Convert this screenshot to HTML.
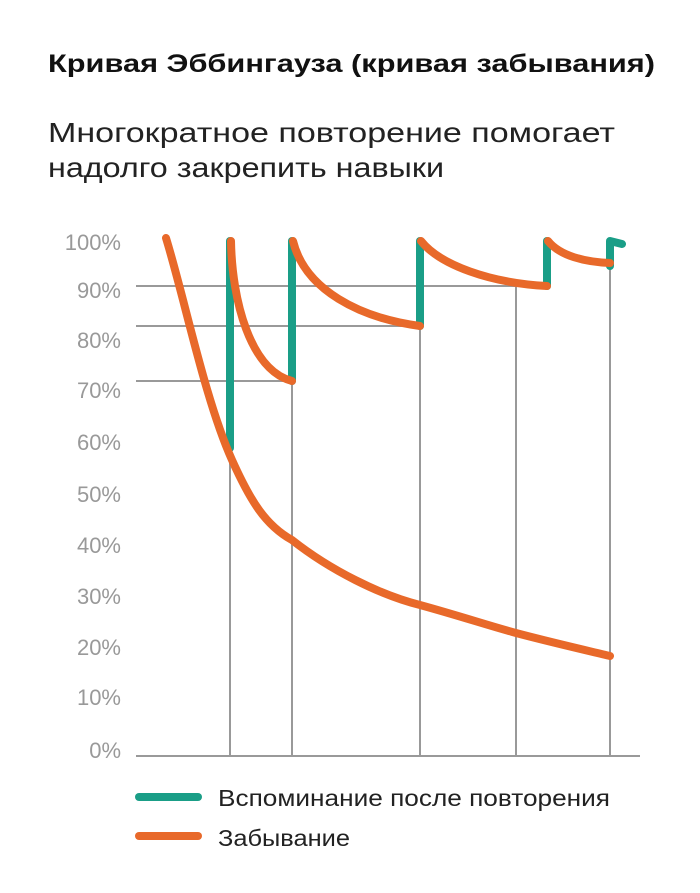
<!DOCTYPE html>
<html><head><meta charset="utf-8"><style>
body{margin:0;background:#fff;width:700px;height:893px;overflow:hidden;font-family:"Liberation Sans",sans-serif}
</style></head><body>
<svg width="700" height="893" xmlns="http://www.w3.org/2000/svg" style="position:absolute;left:0;top:0">
<text x="48" y="72" font-family="Liberation Sans" font-weight="bold" font-size="25" fill="#111" textLength="607" lengthAdjust="spacingAndGlyphs">Кривая Эббингауза (кривая забывания)</text>
<text x="48" y="142" font-family="Liberation Sans" font-size="28" fill="#222" textLength="567" lengthAdjust="spacingAndGlyphs">Многократное повторение помогает</text>
<text x="48" y="177" font-family="Liberation Sans" font-size="28" fill="#222" textLength="396" lengthAdjust="spacingAndGlyphs">надолго закрепить навыки</text>
<g font-family="Liberation Sans" font-size="22" fill="#999" text-anchor="end">
<text x="121" y="250">100%</text><text x="121" y="298">90%</text><text x="121" y="348">80%</text>
<text x="121" y="398">70%</text><text x="121" y="450">60%</text><text x="121" y="502">50%</text>
<text x="121" y="553">40%</text><text x="121" y="604">30%</text><text x="121" y="655">20%</text>
<text x="121" y="705">10%</text><text x="121" y="758">0%</text>
</g>
<g stroke="#999" stroke-width="2" fill="none">
<line x1="136" y1="756" x2="640" y2="756"/>
<line x1="136" y1="286" x2="547" y2="286"/>
<line x1="136" y1="326" x2="420" y2="326"/>
<line x1="136" y1="381" x2="292" y2="381"/>
<line x1="230" y1="440" x2="230" y2="756"/>
<line x1="292" y1="381" x2="292" y2="756"/>
<line x1="420" y1="326" x2="420" y2="756"/>
<line x1="516" y1="286" x2="516" y2="756"/>
<line x1="610" y1="263" x2="610" y2="756"/>
</g>
<g stroke="#1a9e87" stroke-width="8" fill="none" stroke-linecap="round" stroke-linejoin="round">
<line x1="230" y1="448" x2="230" y2="241"/>
<line x1="292" y1="381" x2="292" y2="241"/>
<line x1="420" y1="326" x2="420" y2="241"/>
<line x1="547" y1="286" x2="547" y2="241"/>
<polyline points="610,266 610,241 622,244"/>
</g>
<g stroke="#e8692a" stroke-width="8" fill="none" stroke-linecap="round">
<path d="M166,238 C185,300 205,400 232,460 C250,500 265,525 292,540 C330,570 380,595 420,605 C460,616 490,626 516,633 C550,642 585,650 610,656"/>
<path d="M231,241 C232,300 250,370 292,381"/>
<path d="M293,241 C305,290 360,318 420,326"/>
<path d="M421,241 C440,265 490,283 547,286"/>
<path d="M548,241 C560,256 585,262 610,263"/>
</g>
<line x1="139" y1="797" x2="198" y2="797" stroke="#1a9e87" stroke-width="8" stroke-linecap="round"/>
<line x1="139" y1="836" x2="198" y2="836" stroke="#e8692a" stroke-width="8" stroke-linecap="round"/>
<text x="218" y="806" font-family="Liberation Sans" font-size="23" fill="#222" textLength="392" lengthAdjust="spacingAndGlyphs">Вспоминание после повторения</text>
<text x="218" y="846" font-family="Liberation Sans" font-size="23" fill="#222" textLength="132" lengthAdjust="spacingAndGlyphs">Забывание</text>
</svg>
</body></html>
